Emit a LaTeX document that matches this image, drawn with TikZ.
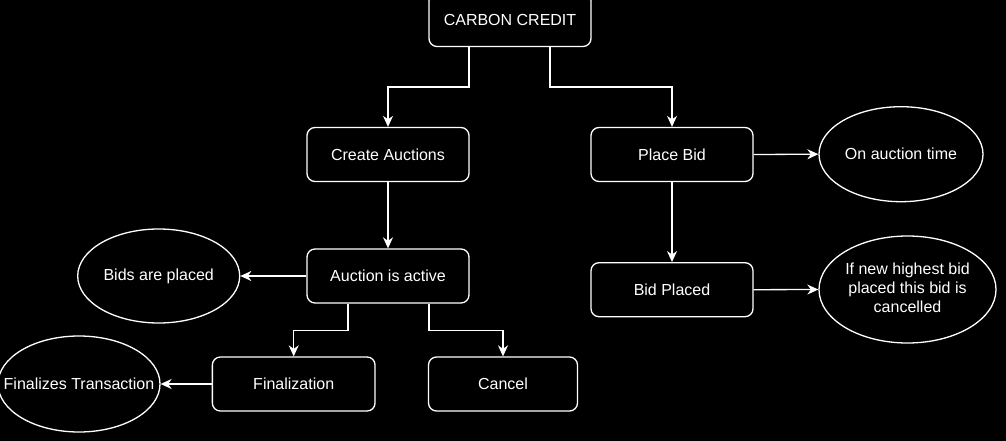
\documentclass[tikz,border=0pt]{standalone}
\usepackage{fontspec}
\setmainfont{Liberation Sans}
\usetikzlibrary{arrows.meta,shapes.geometric}
\begin{document}
\begin{tikzpicture}[x=1pt,y=-1pt,
  every node/.style={text=white,font=\fontsize{16}{19}\selectfont,inner sep=0pt},
  box/.style={draw=white,line width=1.3pt,rounded corners=8pt,minimum height=54pt},
  oval/.style={draw=white,line width=1.3pt,ellipse,align=center},
  arr/.style={draw=white,line width=1.3pt,-{Stealth[length=11pt,width=10pt,inset=3.5pt]}}]
\fill[black] (0,0) rectangle (1006,441);
\useasboundingbox (0,0) rectangle (1006,441);
\clip (0,0) rectangle (1006,441);
% boxes
\node[box,minimum width=162pt] (cc) at (510,19.5) {CARBON CREDIT};
\node[box,minimum width=162pt] (ca) at (388,154.5) {Create Auctions};
\node[box,minimum width=162pt] (pb) at (672,154.5) {Place Bid};
\node[box,minimum width=162pt] (aa) at (388,276) {Auction is active};
\node[box,minimum width=162pt] (bp) at (672,289.7) {Bid Placed};
\node[box,minimum width=162.7pt] (fin) at (293.7,384) {Finalization};
\node[box,minimum width=149pt] (can) at (503,384) {Cancel};
% ellipses
\node[oval,minimum width=164pt,minimum height=95pt] (oat) at (901,154.2) {\makebox[0pt]{On auction time}};
\node[oval,minimum width=177pt,minimum height=107pt] (nh) at (907.5,289.5) {\makebox[0pt]{\begin{tabular}{@{}c@{}}If new highest bid\\placed this bid is\\cancelled\end{tabular}}};
\node[oval,minimum width=162pt,minimum height=94pt] (bap) at (158.7,276) {\makebox[0pt]{Bids are placed}};
\node[oval,minimum width=162pt,minimum height=96pt] (ft) at (79,384) {\makebox[0pt]{Finalizes Transaction}};
% connectors
\draw[arr] ([xshift=-41pt]cc.south) -- ++(0,40) -| (ca.north);
\draw[arr] ([xshift=40pt]cc.south) -- ++(0,40) -| (pb.north);
\draw[arr] (ca.south) -- (aa.north);
\draw[arr] (pb.south) -- (bp.north);
\draw[arr] (pb.east) -- (oat.west);
\draw[arr] (bp.east) -- (nh.west);
\draw[arr] (aa.west) -- (bap.east);
\draw[arr] ([xshift=-40pt]aa.south) -- ++(0,27) -| (fin.north);
\draw[arr] ([xshift=41pt]aa.south) -- ++(0,27) -| (can.north);
\draw[arr] (fin.west) -- (ft.east);
\end{tikzpicture}
\end{document}
